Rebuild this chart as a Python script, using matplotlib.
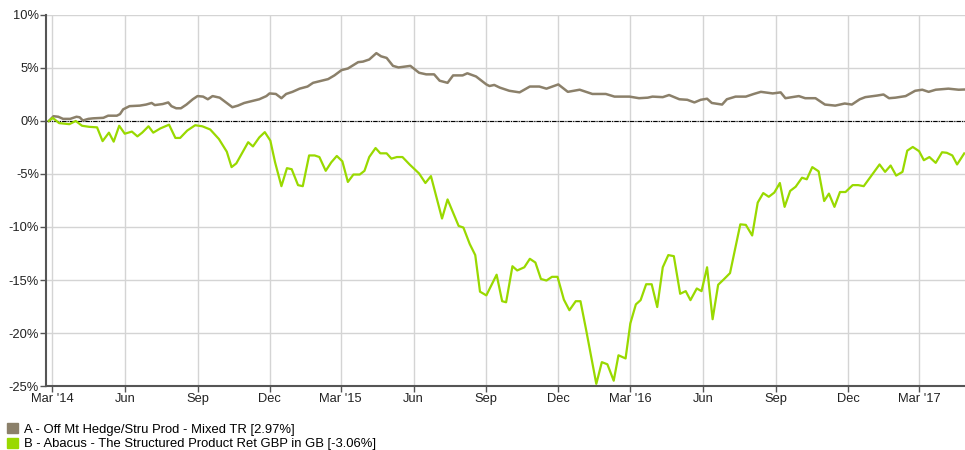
import matplotlib
matplotlib.use("Agg")
import matplotlib.pyplot as plt
from matplotlib.patches import Patch
import pandas as pd

# series A - sector average (grey), % total return since start
a_dates = [
    "2014-02-25", "2014-03-03", "2014-03-09", "2014-03-15", "2014-03-24", "2014-04-01",
    "2014-04-05", "2014-04-09", "2014-04-16", "2014-04-22", "2014-05-05", "2014-05-11",
    "2014-05-22", "2014-05-26", "2014-05-30", "2014-06-07", "2014-06-20", "2014-06-28",
    "2014-07-05", "2014-07-09", "2014-07-19", "2014-07-26", "2014-07-30", "2014-08-05",
    "2014-08-11", "2014-08-18", "2014-08-26", "2014-09-01", "2014-09-08", "2014-09-14",
    "2014-09-20", "2014-09-29", "2014-10-07", "2014-10-15", "2014-10-22", "2014-10-30",
    "2014-11-10", "2014-11-18", "2014-11-27", "2014-12-01", "2014-12-09", "2014-12-16",
    "2014-12-22", "2014-12-30", "2015-01-08", "2015-01-18", "2015-01-25", "2015-02-02",
    "2015-02-13", "2015-02-21", "2015-03-02", "2015-03-10", "2015-03-23", "2015-03-29",
    "2015-04-06", "2015-04-15", "2015-04-21", "2015-04-28", "2015-05-06", "2015-05-13",
    "2015-05-23", "2015-05-28", "2015-06-08", "2015-06-17", "2015-06-27", "2015-07-04",
    "2015-07-14", "2015-07-21", "2015-08-02", "2015-08-08", "2015-08-19", "2015-09-01",
    "2015-09-05", "2015-09-11", "2015-09-18", "2015-09-30", "2015-10-13", "2015-10-26",
    "2015-11-07", "2015-11-16", "2015-12-01", "2015-12-13", "2015-12-28", "2016-01-13",
    "2016-01-30", "2016-02-10", "2016-02-29", "2016-03-12", "2016-03-23", "2016-03-29",
    "2016-04-11", "2016-04-19", "2016-05-02", "2016-05-12", "2016-05-21", "2016-05-29",
    "2016-06-06", "2016-06-12", "2016-06-25", "2016-07-01", "2016-07-12", "2016-07-25",
    "2016-08-04", "2016-08-13", "2016-08-28", "2016-09-07", "2016-09-13", "2016-09-30",
    "2016-10-08", "2016-10-21", "2016-11-02", "2016-11-15", "2016-11-27", "2016-12-06",
    "2016-12-16", "2016-12-23", "2017-01-07", "2017-01-15", "2017-01-22", "2017-01-30",
    "2017-02-12", "2017-02-24", "2017-03-05", "2017-03-13", "2017-03-22", "2017-04-07",
    "2017-04-20", "2017-04-27",
]
a_values = [
    0.0, 0.45, 0.4, 0.2, 0.2, 0.4, 0.35, 0.05, 0.2, 0.25, 0.3, 0.5,
    0.5, 0.65, 1.1, 1.4, 1.45, 1.55, 1.7, 1.5, 1.6, 1.75, 1.4, 1.2,
    1.2, 1.55, 2.05, 2.35, 2.3, 2.05, 2.35, 2.2, 1.75, 1.3, 1.45, 1.7,
    1.9, 2.05, 2.35, 2.6, 2.55, 2.15, 2.55, 2.75, 3.05, 3.25, 3.6, 3.75,
    3.95, 4.3, 4.8, 4.95, 5.55, 5.6, 5.8, 6.4, 6.1, 5.95, 5.2, 5.05,
    5.15, 5.2, 4.55, 4.4, 4.4, 3.8, 3.6, 4.3, 4.3, 4.5, 4.2, 3.45,
    3.3, 3.4, 3.15, 2.85, 2.7, 3.25, 3.25, 3.05, 3.45, 2.75, 2.95, 2.55,
    2.55, 2.3, 2.3, 2.15, 2.2, 2.3, 2.25, 2.45, 2.05, 2.0, 1.75, 2.0,
    2.1, 1.7, 1.55, 2.05, 2.3, 2.3, 2.55, 2.75, 2.6, 2.7, 2.15, 2.35,
    2.15, 2.15, 1.55, 1.45, 1.65, 1.55, 2.05, 2.25, 2.4, 2.5, 2.15, 2.2,
    2.35, 2.85, 2.95, 2.75, 2.95, 3.05, 2.95, 2.97,
]

# series B - Abacus structured product fund (green)
b_dates = [
    "2014-02-25", "2014-03-02", "2014-03-10", "2014-03-23", "2014-03-31", "2014-04-08",
    "2014-04-17", "2014-04-27", "2014-05-04", "2014-05-12", "2014-05-18", "2014-05-25",
    "2014-06-01", "2014-06-10", "2014-06-17", "2014-06-23", "2014-07-01", "2014-07-07",
    "2014-07-16", "2014-07-27", "2014-08-04", "2014-08-10", "2014-08-19", "2014-08-29",
    "2014-09-07", "2014-09-17", "2014-09-28", "2014-10-08", "2014-10-14", "2014-10-20",
    "2014-11-04", "2014-11-10", "2014-11-18", "2014-11-25", "2014-12-02", "2014-12-08",
    "2014-12-16", "2014-12-23", "2014-12-29", "2015-01-06", "2015-01-12", "2015-01-20",
    "2015-01-27", "2015-02-02", "2015-02-10", "2015-02-17", "2015-02-24", "2015-03-03",
    "2015-03-10", "2015-03-17", "2015-03-25", "2015-03-31", "2015-04-06", "2015-04-14",
    "2015-04-20", "2015-04-28", "2015-05-04", "2015-05-11", "2015-05-18", "2015-05-27",
    "2015-06-08", "2015-06-16", "2015-06-23", "2015-07-07", "2015-07-14", "2015-07-28",
    "2015-08-03", "2015-08-11", "2015-08-18", "2015-08-24", "2015-09-01", "2015-09-14",
    "2015-09-21", "2015-09-26", "2015-10-04", "2015-10-10", "2015-10-19", "2015-10-26",
    "2015-11-02", "2015-11-09", "2015-11-16", "2015-11-23", "2015-11-30", "2015-12-08",
    "2015-12-15", "2015-12-23", "2015-12-29", "2016-01-05", "2016-01-18", "2016-01-25",
    "2016-02-01", "2016-02-09", "2016-02-15", "2016-02-24", "2016-03-01", "2016-03-08",
    "2016-03-14", "2016-03-21", "2016-03-28", "2016-04-04", "2016-04-11", "2016-04-18",
    "2016-04-25", "2016-05-03", "2016-05-10", "2016-05-16", "2016-05-24", "2016-05-30",
    "2016-06-06", "2016-06-13", "2016-06-20", "2016-06-27", "2016-07-05", "2016-07-18",
    "2016-07-25", "2016-08-02", "2016-08-09", "2016-08-16", "2016-08-23", "2016-08-30",
    "2016-09-06", "2016-09-12", "2016-09-19", "2016-09-26", "2016-10-04", "2016-10-10",
    "2016-10-17", "2016-10-25", "2016-11-01", "2016-11-07", "2016-11-14", "2016-11-21",
    "2016-11-28", "2016-12-07", "2016-12-14", "2016-12-21", "2017-01-10", "2017-01-17",
    "2017-01-24", "2017-01-31", "2017-02-08", "2017-02-14", "2017-02-21", "2017-03-01",
    "2017-03-07", "2017-03-14", "2017-03-22", "2017-03-30", "2017-04-05", "2017-04-12",
    "2017-04-18", "2017-04-27",
]
b_values = [
    0.0, 0.3, -0.2, -0.3, 0.0, -0.45, -0.55, -0.6, -1.9, -1.1, -1.95, -0.45,
    -1.2, -1.0, -1.45, -1.1, -0.5, -1.1, -0.7, -0.35, -1.6, -1.6, -0.9, -0.4,
    -0.5, -0.8, -1.7, -2.9, -4.35, -4.0, -2.0, -2.4, -1.55, -1.05, -1.85, -3.9,
    -6.15, -4.45, -4.55, -6.05, -6.15, -3.25, -3.25, -3.4, -4.7, -3.9, -3.3, -3.8,
    -5.75, -5.05, -5.05, -4.7, -3.4, -2.55, -3.05, -3.05, -3.55, -3.4, -3.4, -4.1,
    -4.95, -5.85, -5.2, -9.2, -7.4, -9.9, -10.05, -11.6, -12.65, -16.1, -16.45, -14.5,
    -17.0, -17.1, -13.7, -14.1, -13.8, -13.0, -13.35, -14.9, -15.05, -14.7, -14.7, -16.85,
    -17.85, -17.0, -17.0, -19.65, -24.8, -22.75, -22.95, -24.5, -22.1, -22.4, -19.1, -17.3,
    -16.9, -15.4, -15.4, -17.55, -13.8, -12.65, -12.75, -16.3, -16.05, -16.9, -15.8, -16.05,
    -13.8, -18.7, -15.45, -14.95, -14.35, -9.75, -9.8, -10.8, -7.7, -6.8, -7.15, -6.75,
    -5.85, -8.1, -6.6, -6.2, -5.35, -5.5, -4.35, -4.75, -7.55, -6.85, -8.1, -6.7,
    -6.7, -6.05, -6.05, -6.15, -4.1, -4.8, -4.2, -5.15, -4.8, -2.8, -2.45, -2.85,
    -3.7, -3.4, -3.95, -2.95, -3.0, -3.25, -4.1, -3.06,
]

labels = [
    "A - Off Mt Hedge/Stru Prod - Mixed TR [2.97%]",
    "B - Abacus - The Structured Product Ret GBP in GB [-3.06%]",
]
tick_dates = pd.date_range("2014-03-01", "2017-03-01", freq="3MS")
y_ticks = [10, 5, 0, -5, -10, -15, -20, -25]

grey = "#8b806a"
green = "#99d900"

plt.rcParams["font.family"] = ["Liberation Sans", "DejaVu Sans"]

fig = plt.figure(figsize=(9.65, 4.5), dpi=100)
ax = fig.add_axes([0.0477, 0.1422, 0.9523, 0.8245])

ax.plot(pd.to_datetime(a_dates), a_values, color=grey, lw=1.8, zorder=3)
ax.plot(pd.to_datetime(b_dates), b_values, color=green, lw=1.6, zorder=4)
ax.axhline(0, color="black", lw=0.8, linestyle=(0, (4, 1, 1, 1)), zorder=2)

ax.set_xlim(pd.Timestamp("2014-02-21 12:00"), pd.Timestamp("2017-04-28"))
ax.set_ylim(-25, 10)

ax.set_yticks(y_ticks)
ax.set_yticklabels([f"{v}%" for v in y_ticks])
ax.set_xticks(tick_dates)
xlabels = []
for d in tick_dates:
    if d.month == 3:
        xlabels.append(d.strftime("%b '%y"))
    else:
        xlabels.append(d.strftime("%b"))
ax.set_xticklabels(xlabels)

ax.grid(True, color="#d4d4d4", lw=1)
ax.set_axisbelow(True)
for side in ["top", "right"]:
    ax.spines[side].set_visible(False)
for side in ["left", "bottom"]:
    ax.spines[side].set_color("#555555")
    ax.spines[side].set_linewidth(1.5)
ax.tick_params(axis="both", length=4, width=1, color="#555555",
               labelsize=9.3, labelcolor="#222222", pad=1)

handles = [Patch(facecolor=grey, edgecolor=grey), Patch(facecolor=green, edgecolor=green)]
fig.legend(handles, labels, loc="lower left", bbox_to_anchor=(-0.002, -0.021),
           frameon=False, fontsize=9.4, handlelength=0.8, handleheight=0.8,
           handletextpad=0.5, labelspacing=0.15, borderaxespad=0.3)

fig.savefig("out.png", dpi=100)
